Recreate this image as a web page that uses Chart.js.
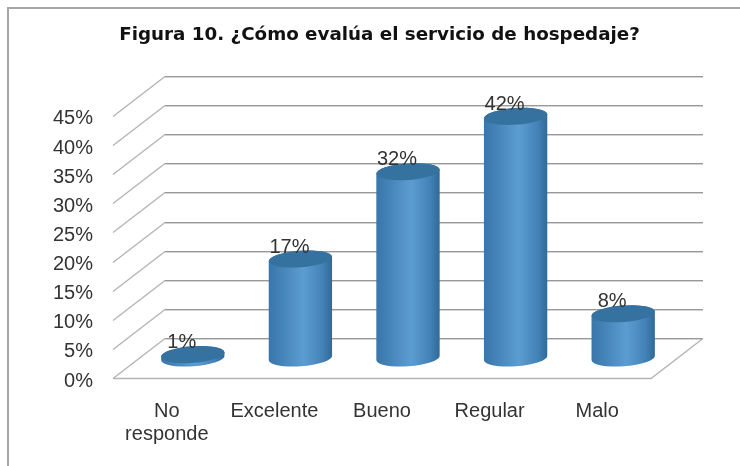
<!DOCTYPE html>
<html><head><meta charset="utf-8">
<style>html,body{margin:0;padding:0;background:#fff}#w{position:absolute;left:0;top:0;width:740px;height:466px}canvas{filter:blur(0.4px)}</style>
<script src="https://cdn.jsdelivr.net/npm/chart.js@4"></script>
</head><body><div id="w"><canvas id="c" width="740" height="466"></canvas></div>
<script>
const titleText = 'Figura 10. ¿Cómo evalúa el servicio de hospedaje?';
const categories = [['No','responde'],'Excelente','Bueno','Regular','Malo'];
const values = [0.6, 17, 32, 41.5, 7.6];
const yTicks = [0,5,10,15,20,25,30,35,40,45];

const DEPTH_X = 52, DEPTH_Y = 40;

class Cylinder extends Chart.BarElement {
  draw(ctx){
    const cx = this.x + DEPTH_X/2, top = this.y - DEPTH_Y/2, base = this.base - DEPTH_Y/2;
    const rx = this.width/2, ry = 8.3, rot = -4*Math.PI/180;
    ctx.save();
    const g = ctx.createLinearGradient(cx-rx,0,cx+rx,0);
    g.addColorStop(0,'#3a76a9'); g.addColorStop(0.12,'#3f7db2');
    g.addColorStop(0.55,'#5c9dd1'); g.addColorStop(0.85,'#4382b7'); g.addColorStop(1,'#2f6a98');
    ctx.beginPath();
    ctx.ellipse(cx,base,rx,ry,rot,0,Math.PI);
    ctx.ellipse(cx,top,rx,ry,rot,Math.PI,2*Math.PI);
    ctx.closePath();
    ctx.fillStyle = g; ctx.fill();
    ctx.beginPath();
    ctx.ellipse(cx,top,rx,ry,rot,0,2*Math.PI);
    ctx.fillStyle = '#36729f'; ctx.fill();
    ctx.restore();
  }
}
Cylinder.id = 'cylinder';
Cylinder.defaults = Chart.BarElement.defaults;
class CylinderController extends Chart.BarController {}
CylinderController.id = 'cylinder';
CylinderController.defaults = Object.assign({}, Chart.BarController.defaults, {dataElementType:'cylinder'});
CylinderController.overrides = Chart.BarController.overrides;
Chart.register(Cylinder, CylinderController);

const walls = {
  id:'walls',
  afterLayout(chart){
    chart.titleBlock.left = 0;
    chart.titleBlock.right = 759;
  },
  beforeDraw(chart){
    const {ctx} = chart;
    ctx.save();
    ctx.fillStyle='#fff'; ctx.fillRect(0,0,740,466);
    ctx.strokeStyle='#a6a6a6'; ctx.lineWidth=2;
    ctx.beginPath(); ctx.moveTo(8,466); ctx.lineTo(8,8); ctx.lineTo(740,8); ctx.stroke();
    ctx.restore();
  },
  beforeDatasetsDraw(chart){
    const {ctx, chartArea:a, scales:{y}} = chart;
    ctx.save();
    const line = (pts,c,off,w)=>{ctx.strokeStyle=c;ctx.lineWidth=w;ctx.beginPath();pts.forEach((p,i)=>i?ctx.lineTo(p[0],p[1]+off):ctx.moveTo(p[0],p[1]+off));ctx.stroke();};
    yTicks.forEach(t=>{
      const py = Math.round(y.getPixelForValue(t))+0.5;
      const by = py-DEPTH_Y;
      line([[a.left,py],[a.left+DEPTH_X,by]],'#b4b4b4',0,1.4);
      line([[a.left+DEPTH_X,by],[a.right+DEPTH_X,by]],'#d4d4d4',1,1);
      line([[a.left+DEPTH_X,by],[a.right+DEPTH_X,by]],'#999999',0,1);
    });
    const py0 = Math.round(y.getPixelForValue(0))+0.5, by0 = py0-DEPTH_Y;
    line([[a.left,py0],[a.right,py0],[a.right+DEPTH_X,by0]],'#b4b4b4',0,1.4);
    ctx.restore();
  },
  afterDatasetsDraw(chart){
    const {ctx} = chart;
    ctx.save();
    ctx.font='20px "Liberation Sans"'; ctx.fillStyle='#333'; ctx.textAlign='center'; ctx.textBaseline='middle';
    chart.getDatasetMeta(0).data.forEach((el,i)=>{
      ctx.fillText(Math.round(values[i])+'%', el.x+DEPTH_X/2-11, el.y-DEPTH_Y/2-12);
    });
    ctx.restore();
  }
};

new Chart(document.getElementById('c'),{
  type:'cylinder',
  data:{labels:categories,datasets:[{label:'Evaluación',data:values,backgroundColor:'#4a8ac0',clip:false}]},
  plugins:[walls],
  options:{
    responsive:false,animation:false,
    layout:{padding:{left:0,top:0,right:89,bottom:0}},
    categoryPercentage:1,barPercentage:0.59,
    plugins:{
      legend:{display:false},tooltip:{enabled:false},
      title:{display:true,text:titleText,color:'#111',font:{family:'"DejaVu Sans"',size:18.3,weight:'bold',lineHeight:1.2},padding:{top:24,bottom:70}}
    },
    scales:{
      x:{grid:{display:false,drawTicks:false},border:{display:false},
         afterFit(s){s.height=88;},
         ticks:{padding:22,maxRotation:0,minRotation:0,autoSkip:false,color:'#333',font:{family:'"Liberation Sans"',size:20,lineHeight:1.15}}},
      y:{min:0,max:45,grid:{display:false,drawTicks:false},border:{display:false},
         afterFit(s){s.width=113;},
         afterBuildTicks(s){s.ticks=yTicks.map(v=>({value:v}));},
         afterUpdate(s){const o=s._computeLabelItems;s._computeLabelItems=function(a){const it=o.call(this,a);it.forEach(i=>{i.textOffset+=1.5;});return it;};},
         ticks:{padding:20,color:'#333',font:{family:'"Liberation Sans"',size:20},callback:v=>v+'%'}}
    }
  }
});
</script></body></html>
